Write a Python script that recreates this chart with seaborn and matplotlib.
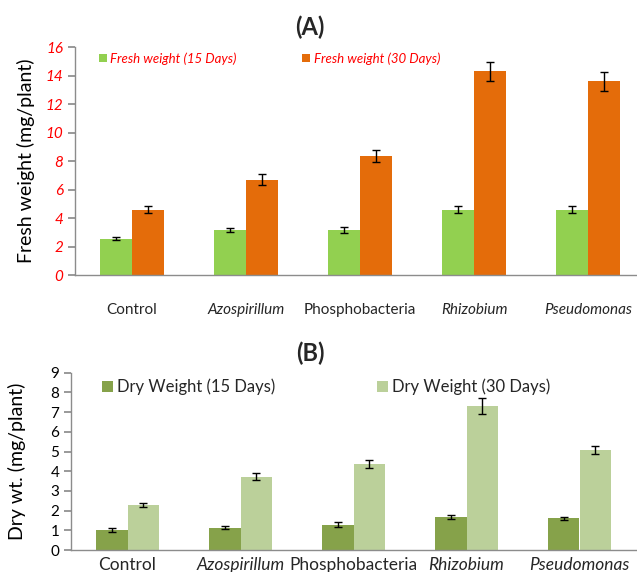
import pandas as pd
import matplotlib
matplotlib.use("Agg")
import matplotlib.pyplot as plt
import seaborn as sns

# data
treatments = ["Control", "Azospirillum", "Phosphobacteria", "Rhizobium", "Pseudomonas"]
italic_names = ["Azospirillum", "Rhizobium", "Pseudomonas"]

fresh_15 = [2.55, 3.15, 3.15, 4.6, 4.6]
fresh_30 = [4.6, 6.7, 8.35, 14.3, 13.6]
fresh_15_err = [0.12, 0.15, 0.2, 0.22, 0.22]
fresh_30_err = [0.25, 0.38, 0.42, 0.7, 0.68]

dry_15 = [1.02, 1.14, 1.28, 1.67, 1.6]
dry_30 = [2.28, 3.72, 4.38, 7.3, 5.07]
dry_15_err = [0.09, 0.09, 0.13, 0.1, 0.09]
dry_30_err = [0.1, 0.17, 0.2, 0.42, 0.2]

fresh_labels = ["Fresh weight (15 Days)", "Fresh weight (30 Days)"]
dry_labels = ["Dry Weight (15 Days)", "Dry Weight (30 Days)"]

sns.set_theme(style="white")
plt.rcParams["font.family"] = ["Lato", "DejaVu Sans"]

W, H = 637, 572
fig = plt.figure(figsize=(W / 100, H / 100), dpi=100)


def long_df(a, b, labels):
    return pd.DataFrame({
        "treatment": treatments * 2,
        "series": [labels[0]] * 5 + [labels[1]] * 5,
        "value": a + b,
    })


def panel(rect, df, errs, colors, ymax, ystep, ylabel, tick_color, tick_style, ylsize):
    ax = fig.add_axes(rect)
    sns.barplot(data=df, x="treatment", y="value", hue="series", palette=colors,
                width=0.56, errorbar=None, saturation=1, ax=ax, linewidth=0)
    # error bars on top of each bar
    for cont, err in zip(ax.containers, errs):
        xs = [p.get_x() + p.get_width() / 2 for p in cont]
        ys = [p.get_height() for p in cont]
        ax.errorbar(xs, ys, yerr=err, fmt="none", ecolor="black",
                    elinewidth=1, capsize=3, capthick=1)
    ax.set_xlim(-0.5, 4.5)
    ax.set_ylim(0, ymax)
    ax.set_yticks(range(0, ymax + 1, ystep))
    ax.set_xlabel("")
    for s in ["top", "right"]:
        ax.spines[s].set_visible(False)
    for s in ["left", "bottom"]:
        ax.spines[s].set_color("#8c8c8c")
        ax.spines[s].set_linewidth(1)
    ax.set_xticks([i - 0.5 for i in range(6)], minor=True)
    ax.tick_params(axis="x", which="minor", length=5, color="#8c8c8c", direction="out")
    ax.tick_params(axis="x", which="major", length=0)
    ax.tick_params(axis="y", length=5, color="#8c8c8c", direction="out", left=True,
                   labelsize=11, labelcolor=tick_color)
    for t in ax.get_yticklabels():
        t.set_fontstyle(tick_style)
    ax.set_ylabel(ylabel, fontsize=ylsize, color="black")
    return ax


# (A) fresh weight
axA = panel([75 / W, 1 - 275 / H, 570 / W, 227.7 / H],
            long_df(fresh_15, fresh_30, fresh_labels),
            [fresh_15_err, fresh_30_err], ["#92D050", "#E46C0A"],
            16, 2, "Fresh weight (mg/plant)", "#ff0000", "italic", 14)
axA.tick_params(axis="x", pad=20, labelsize=11)
axA.yaxis.set_label_coords(-0.07, 0.5)
h, l = axA.get_legend_handles_labels()
axA.legend(h, l, ncol=2, frameon=False, loc="upper left", bbox_to_anchor=(0.021, 1.03),
           handlelength=0.6, handleheight=0.6, handletextpad=0.25, columnspacing=5.0,
           prop={"style": "italic", "size": 9.5}, labelcolor="#ff0000")

# (B) dry weight
axB = panel([71 / W, 22 / H, 565 / W, 177.3 / H],
            long_df(dry_15, dry_30, dry_labels),
            [dry_15_err, dry_30_err], ["#86A24A", "#BBD09A"],
            9, 1, "Dry wt. (mg/plant)", "black", "normal", 14)
axB.tick_params(axis="x", pad=5, labelsize=12.5)
axB.yaxis.set_label_coords(-0.08, 0.5)
h, l = axB.get_legend_handles_labels()
axB.legend(h, l, ncol=2, frameon=False, loc="upper left", bbox_to_anchor=(0.028, 1.05),
           handlelength=0.7, handleheight=0.7, handletextpad=0.2, columnspacing=6.1,
           prop={"size": 12})

for ax in (axA, axB):
    ax.set_xticks(range(5))
    ax.set_xticklabels(treatments)
    for t in ax.get_xticklabels():
        if t.get_text() in italic_names:
            t.set_fontstyle("italic")

fig.text(310 / W, 1 - 27 / H, "(A)", ha="center", va="center", fontsize=17, fontweight="bold")
fig.text(310 / W, 1 - 353 / H, "(B)", ha="center", va="center", fontsize=17, fontweight="bold")

fig.savefig("out.png", dpi=100)
